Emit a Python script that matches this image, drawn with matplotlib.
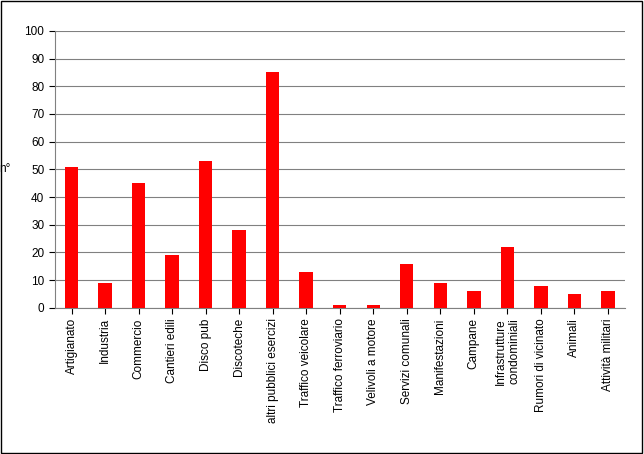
import matplotlib
matplotlib.use("Agg")
import matplotlib.pyplot as plt
from matplotlib.patches import Rectangle

plt.rcParams["font.family"] = ["Liberation Sans", "DejaVu Sans"]

categories = ["Artigianato", "Industria", "Commercio", "Cantieri edili", "Disco pub",
              "Discoteche", "altri pubblici esercizi", "Traffico veicolare",
              "Traffico ferroviario", "Velivoli a motore", "Servizi comunali",
              "Manifestazioni", "Campane", "Infrastrutture\ncondominiali",
              "Rumori di vicinato", "Animali", "Attività militari"]
values = [51, 9, 45, 19, 53, 28, 85, 13, 1, 1, 16, 9, 6, 22, 8, 5, 6]

fig = plt.figure(figsize=(6.44, 4.54), dpi=100)
ax = fig.add_axes([0.085, 0.322, 0.885, 0.61])

x = range(len(categories))
ax.bar(x, values, width=0.4, color="#ff0000", zorder=3)
ax.set_xlim(-0.5, len(categories) - 0.5)
ax.set_ylim(0, 100)
ax.set_yticks(range(0, 101, 10))
ax.yaxis.grid(True, color="#808080", lw=0.8, zorder=0)
ax.set_xticks(list(x))
ax.set_xticklabels(categories, rotation=90, fontsize=8.5)
ax.tick_params(axis="y", labelsize=8.5, length=4, direction="out")
ax.tick_params(axis="x", length=4, direction="out")
for s in ["top", "right"]:
    ax.spines[s].set_visible(False)
ax.spines["left"].set_color("#808080")
ax.spines["bottom"].set_color("#808080")
ax.set_ylabel("n°", rotation=0, fontsize=8.5, labelpad=14, va="center")

fig.patches.append(Rectangle((0.002, 0.002), 0.995, 0.995, transform=fig.transFigure,
                             fill=False, edgecolor="black", lw=1))
fig.savefig("out.png", dpi=100)
